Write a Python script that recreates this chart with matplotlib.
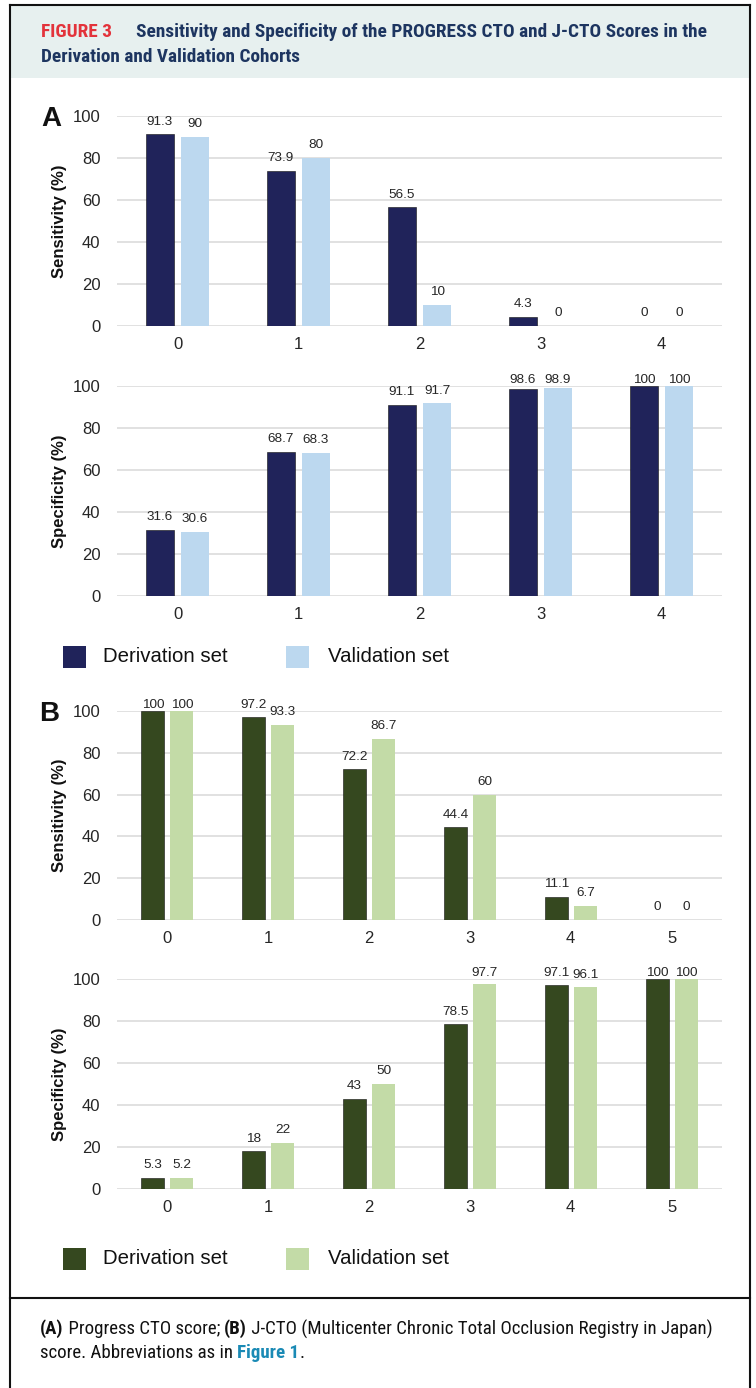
import matplotlib
matplotlib.use("Agg")
import logging
logging.getLogger("matplotlib.font_manager").setLevel(logging.ERROR)
import matplotlib.pyplot as plt
from matplotlib.patches import Rectangle
from matplotlib.lines import Line2D

# ---------------- data ----------------
progress_scores = ["0", "1", "2", "3", "4"]
progress_sens_deriv = [91.3, 73.9, 56.5, 4.3, 0]
progress_sens_valid = [90, 80, 10, 0, 0]
progress_spec_deriv = [31.6, 68.7, 91.1, 98.6, 100]
progress_spec_valid = [30.6, 68.3, 91.7, 98.9, 100]

jcto_scores = ["0", "1", "2", "3", "4", "5"]
jcto_sens_deriv = [100, 97.2, 72.2, 44.4, 11.1, 0]
jcto_sens_valid = [100, 93.3, 86.7, 60, 6.7, 0]
jcto_spec_deriv = [5.3, 18, 43, 78.5, 97.1, 100]
jcto_spec_valid = [5.2, 22, 50, 97.7, 96.1, 100]

series_names = ["Derivation set", "Validation set"]
y_ticks = [0, 20, 40, 60, 80, 100]

title_tag = "FIGURE 3"
title_line1 = "Sensitivity and Specificity of the PROGRESS CTO and J-CTO Scores in the"
title_line2 = "Derivation and Validation Cohorts"

# ---------------- style ----------------
W, H = 756, 1388
NAVY, LBLUE = "#20235a", "#bcd8ef"
DGREEN, LGREEN = "#35481f", "#c3dba7"
GRID = "#d9d9d9"
TXT = "#262626"
CHART_FONT = ["Liberation Sans", "DejaVu Sans"]
NARROW_FONT = ["Roboto Condensed", "Liberation Sans Narrow", "DejaVu Sans Condensed",
               "Liberation Sans", "DejaVu Sans"]

fig = plt.figure(figsize=(W / 100, H / 100), dpi=100)
fig.patch.set_facecolor("white")
renderer = fig.canvas.get_renderer()


def fx(px):
    return px / W


def fy(py):
    return 1 - py / H


def make_axes(top_px, bottom_px, left_px=117, right_px=722):
    return fig.add_axes([fx(left_px), fy(bottom_px), (right_px - left_px) / W,
                         (bottom_px - top_px) / H])


def bar_panel(ax, cats, d_vals, v_vals, c_d, c_v, ylabel, width, offset):
    x = list(range(len(cats)))
    ax.bar([i - offset for i in x], d_vals, width=width, color=c_d,
           edgecolor="#111111", linewidth=0.4, zorder=3)
    ax.bar([i + offset for i in x], v_vals, width=width, color=c_v,
           linewidth=0, zorder=3)
    ax.set_xlim(-0.5, len(cats) - 0.5)
    ax.set_ylim(0, 100)
    ax.set_yticks(y_ticks)
    ax.set_xticks(x)
    ax.set_xticklabels(cats)
    for s in ax.spines.values():
        s.set_visible(False)
    ax.yaxis.grid(True, color=GRID, linewidth=1.1, zorder=0)
    ax.set_axisbelow(True)
    ax.tick_params(axis="both", length=0, labelsize=12, labelcolor=TXT)
    ax.tick_params(axis="y", pad=12)
    ax.tick_params(axis="x", pad=8)
    for lab in ax.get_xticklabels() + ax.get_yticklabels():
        lab.set_family(CHART_FONT)
    ax.set_ylabel(ylabel, fontsize=12, fontweight="bold", color="#111111",
                  family=CHART_FONT)
    ax.yaxis.set_label_coords(-0.083, 0.5)
    for i in x:
        for val, pos in ((d_vals[i], i - offset), (v_vals[i], i + offset)):
            ty = min(val + 6.0, 102.9)
            ax.text(pos, ty, f"{val:g}", ha="center", va="center",
                    fontsize=9.7, color=TXT, family=CHART_FONT, clip_on=False)


def rich_line(x_px, y_px, pieces, size, target_w=None):
    """Draw a line made of differently styled pieces; optionally fit to width."""
    def draw(fs):
        arts = []
        x = fx(x_px)
        for txt, weight, color in pieces:
            t = fig.text(x, fy(y_px), txt, fontsize=fs, fontweight=weight,
                         color=color, family=NARROW_FONT, ha="left", va="center")
            bb = t.get_window_extent(renderer=renderer)
            x = bb.x1 / W
            arts.append(t)
        return arts, x * W - x_px

    arts, width = draw(size)
    if target_w is not None:
        for a in arts:
            a.remove()
        size = size * target_w / width
        arts, width = draw(size)
    return size


# ---------------- header ----------------
fig.patches.append(Rectangle((fx(10), fy(78)), fx(750) - fx(10), fy(5) - fy(78),
                             transform=fig.transFigure, facecolor="#e7f0ef",
                             edgecolor="none", zorder=0))
hsize = rich_line(136, 32, [(title_line1, "bold", "#1d3560")], 12, target_w=571)
rich_line(41, 32, [(title_tag, "bold", "#e3333b")], hsize)
rich_line(41, 57, [(title_line2, "bold", "#1d3560")], hsize)

# ---------------- panels ----------------
axA1 = make_axes(116, 326)
bar_panel(axA1, progress_scores, progress_sens_deriv, progress_sens_valid,
          NAVY, LBLUE, "Sensitivity (%)", 0.232, 0.145)
axA2 = make_axes(386, 596)
bar_panel(axA2, progress_scores, progress_spec_deriv, progress_spec_valid,
          NAVY, LBLUE, "Specificity (%)", 0.232, 0.145)
axB1 = make_axes(711, 920)
bar_panel(axB1, jcto_scores, jcto_sens_deriv, jcto_sens_valid,
          DGREEN, LGREEN, "Sensitivity (%)", 0.228, 0.144)
axB2 = make_axes(979, 1189)
bar_panel(axB2, jcto_scores, jcto_spec_deriv, jcto_spec_valid,
          DGREEN, LGREEN, "Specificity (%)", 0.228, 0.144)

fig.text(fx(51), fy(119), "A", fontsize=20, fontweight="bold", color="#111111",
         family=CHART_FONT, ha="center", va="center")
fig.text(fx(49), fy(714), "B", fontsize=20, fontweight="bold", color="#111111",
         family=CHART_FONT, ha="center", va="center")


# ---------------- legends ----------------
def legend_row(center_px, c_d, c_v):
    for (x0, xt), col, name in zip(((63, 103), (286, 328)), (c_d, c_v), series_names):
        fig.patches.append(Rectangle((fx(x0), fy(center_px + 11)), 23 / W, 22 / H,
                                     transform=fig.transFigure, facecolor=col,
                                     edgecolor="none"))
        fig.text(fx(xt), fy(center_px), name, fontsize=14.7, color="#111111",
                 family=CHART_FONT, ha="left", va="center")


legend_row(657, NAVY, LBLUE)
legend_row(1259, DGREEN, LGREEN)

# ---------------- frame ----------------
for xs, ys in (([10, 750], [5, 5]), ([10, 10], [5, H]), ([750, 750], [5, H]),
               ([10, 750], [1298, 1298])):
    fig.lines.append(Line2D([fx(v) for v in xs], [fy(v) for v in ys],
                            transform=fig.transFigure, color="#111111",
                            linewidth=1.5))

# ---------------- caption ----------------
csize = rich_line(40, 1329, [("(A)", "bold", "#111111"),
                             (" Progress CTO score; ", "normal", "#111111"),
                             ("(B)", "bold", "#111111"),
                             (" J-CTO (Multicenter Chronic Total Occlusion Registry in Japan)",
                              "normal", "#111111")], 12.5, target_w=674)
rich_line(40, 1353, [("score. Abbreviations as in ", "normal", "#111111"),
                     ("Figure 1", "bold", "#1a8ab5"),
                     (".", "normal", "#111111")], csize)

fig.savefig("out.png", dpi=100, facecolor="white")
